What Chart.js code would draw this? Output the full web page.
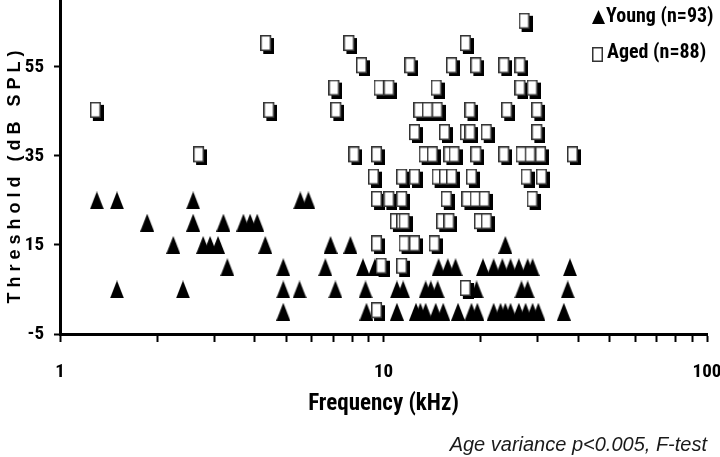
<!DOCTYPE html>
<html>
<head>
<meta charset="utf-8">
<script src="https://cdn.jsdelivr.net/npm/chart.js@4.4.1/dist/chart.umd.min.js"></script>
<style>
  html, body { margin: 0; padding: 0; background: #fff; }
  #wrap { width: 720px; height: 457px; }
</style>
</head>
<body>
<div id="wrap"><canvas id="thresholdGraph" width="720" height="457"></canvas></div>
<script>
// tick labels
const xTickLabels = [1, 10, 100];
const yTickValues = [-5, 15, 35, 55];

// young animals: frequency (kHz) and threshold (dB SPL), row by row
const youngKHz = [
  1.30, 1.50, 2.58, 5.53, 5.86,
  1.86, 2.58, 3.20, 3.69, 3.87, 4.07,
  2.24, 2.77, 2.91, 3.08, 4.31, 6.86, 7.90, 23.8,
  3.29, 4.90, 6.61, 8.64, 9.41, 14.8, 15.8, 16.7, 20.3, 21.9, 23.3, 24.7, 26.2, 27.9, 28.9, 37.7,
  1.50, 2.40, 4.90, 5.50, 7.10, 8.80, 11.0, 11.5, 13.5, 14.0, 14.7, 19.4, 26.7, 27.9, 37.1,
  4.90, 8.86, 11.0, 12.6, 13.0, 13.5, 14.5, 15.3, 17.0, 18.7, 19.5, 21.9, 23.0, 23.8, 24.7, 26.2, 27.5, 28.9, 30.1, 36.1
];
const youngDB = [
  25, 25, 25, 25, 25,
  20, 20, 20, 20, 20, 20,
  15, 15, 15, 15, 15, 15, 15, 15,
  10, 10, 10, 10, 10, 10, 10, 10, 10, 10, 10, 10, 10, 10, 10, 10,
  5, 5, 5, 5, 5, 5, 5, 5, 5, 5, 5, 5, 5, 5, 5,
  0, 0, 0, 0, 0, 0, 0, 0, 0, 0, 0, 0, 0, 0, 0, 0, 0, 0, 0, 0
];

// aged animals
const agedKHz = [
  27.5,
  4.37, 7.90, 18.1,
  8.64, 12.2, 16.4, 19.5, 23.8, 26.7,
  7.10, 9.79, 10.5, 14.7, 26.7, 29.1,
  1.30, 4.47, 7.20, 13.0, 13.8, 14.8, 18.7, 24.3, 30.1,
  12.6, 15.6, 18.1, 18.7, 21.0, 30.1,
  2.71, 8.19, 9.62, 13.5, 14.3, 16.1, 16.7, 19.5, 23.8, 26.9, 28.7, 30.9, 38.8,
  9.41, 11.5, 12.6, 14.8, 15.6, 16.4, 18.9, 27.9, 31.1,
  9.62, 10.5, 11.5, 15.8, 18.3, 19.4, 20.7, 29.1,
  11.0, 11.5, 11.7, 15.3, 16.1, 20.0, 21.0,
  9.62, 11.7, 12.6, 14.5,
  9.93, 11.5,
  18.1,
  9.62
];
const agedDB = [
  65,
  60, 60, 60,
  55, 55, 55, 55, 55, 55,
  50, 50, 50, 50, 50, 50,
  45, 45, 45, 45, 45, 45, 45, 45, 45,
  40, 40, 40, 40, 40, 40,
  35, 35, 35, 35, 35, 35, 35, 35, 35, 35, 35, 35, 35,
  30, 30, 30, 30, 30, 30, 30, 30, 30,
  25, 25, 25, 25, 25, 25, 25, 25,
  20, 20, 20, 20, 20, 20, 20,
  15, 15, 15, 15,
  10, 10,
  5,
  0
];

const legendLabels = ['Young (n=93)', 'Aged (n=88)'];
const footNote = 'Age variance p<0.005, F-test';

const narrow = "'Roboto Condensed', 'Liberation Sans', sans-serif";
const arial = "'Liberation Sans', Arial, sans-serif";

// marker bitmaps
function makeTriangle(w, h) {
  const c = document.createElement('canvas');
  c.width = w; c.height = h;
  const g = c.getContext('2d');
  g.fillStyle = '#000';
  g.beginPath();
  g.moveTo(w / 2, 0);
  g.lineTo(w, h);
  g.lineTo(0, h);
  g.closePath();
  g.fill();
  return c;
}

function makeBox(w, h, off) {
  const c = document.createElement('canvas');
  c.width = w + off; c.height = h + off;
  const g = c.getContext('2d');
  if (off) {
    g.fillStyle = '#000';
    g.fillRect(off, off, w, h);
  }
  g.fillStyle = '#fff';
  g.fillRect(0, 0, w, h);
  g.strokeStyle = '#333';
  g.lineWidth = 1.5;
  g.strokeRect(0.75, 0.75, w - 1.5, h - 1.5);
  return c;
}

const triMark = makeTriangle(14, 18);
const boxMark = makeBox(11, 16, 3);

const legendBox = {
  id: 'legendBox',
  afterDraw(chart) {
    const ctx = chart.ctx;
    ctx.save();
    ctx.fillStyle = '#000';
    ctx.font = 'bold 20px ' + narrow;
    ctx.textBaseline = 'middle';
    ctx.textAlign = 'left';
    ctx.drawImage(makeTriangle(13, 14), 592, 10);
    ctx.fillText(legendLabels[0], 606, 17);
    ctx.drawImage(makeBox(11, 15, 0), 592, 47);
    ctx.fillText(legendLabels[1], 607, 53);
    ctx.restore();
  }
};

const toPoints = (xs, ys) => xs.map((x, i) => ({x: x, y: ys[i]}));

const thresholdChart = new Chart(document.getElementById('thresholdGraph').getContext('2d'), {
  type: 'scatter',
  data: {
    datasets: [{
      label: legendLabels[0],
      data: toPoints(youngKHz, youngDB),
      pointStyle: triMark,
      pointRadius: 8,
      order: 1
    }, {
      label: legendLabels[1],
      data: toPoints(agedKHz, agedDB),
      pointStyle: boxMark,
      pointRadius: 8,
      order: 0
    }]
  },
  options: {
    responsive: false,
    animation: false,
    events: [],
    layout: { autoPadding: false, padding: { left: 3, right: 13, top: 0, bottom: 0 } },
    plugins: {
      legend: { display: false },
      tooltip: { enabled: false },
      title: {
        display: true,
        position: 'bottom',
        align: 'end',
        text: footNote,
        color: '#1a1a1a',
        font: { family: arial, size: 20, style: 'italic', weight: 'normal' },
        padding: { top: 0, bottom: 0 }
      }
    },
    scales: {
      x: {
        type: 'logarithmic',
        min: 1,
        max: 100,
        afterBuildTicks: s => {
          const t = [];
          for (const d of [1, 10]) for (let k = 1; k < 10; k++) t.push({ value: d * k });
          t.push({ value: 100 });
          s.ticks = t;
        },
        afterFit: s => { s.height = 99; s.paddingLeft = 0; s.paddingRight = 0; },
        border: { display: true, color: '#000', width: 3 },
        grid: { drawOnChartArea: false, drawTicks: true, tickLength: 8, tickWidth: 2, tickColor: '#000' },
        ticks: {
          autoSkip: false,
          maxRotation: 0,
          padding: 19,
          color: '#000',
          font: { family: narrow, size: 19, weight: 'bold' },
          callback: v => xTickLabels.includes(v) ? String(v) : ''
        },
        title: {
          display: true,
          text: 'Frequency (kHz)',
          color: '#000',
          font: { family: narrow, size: 23, weight: 'bold' },
          padding: { top: 0, bottom: 15 }
        }
      },
      y: {
        min: -5,
        max: 70,
        afterBuildTicks: s => { s.ticks = yTickValues.map(v => ({ value: v })); },
        afterFit: s => { s.width = 57; s.paddingTop = 0; s.paddingBottom = 0; },
        border: { display: true, color: '#000', width: 3 },
        grid: { drawOnChartArea: false, drawTicks: true, tickLength: 6, tickWidth: 2, tickColor: '#000' },
        ticks: {
          padding: 10,
          color: '#000',
          font: { family: narrow, size: 19, weight: 'bold' }
        },
        title: {
          display: true,
          text: 'T h r e s h o l d   ( d B   S P L )    ',
          color: '#000',
          font: { family: arial, size: 18, weight: 'bold' },
          padding: { top: 1, bottom: 0 }
        }
      }
    }
  },
  plugins: [legendBox]
});
</script>
</body>
</html>
